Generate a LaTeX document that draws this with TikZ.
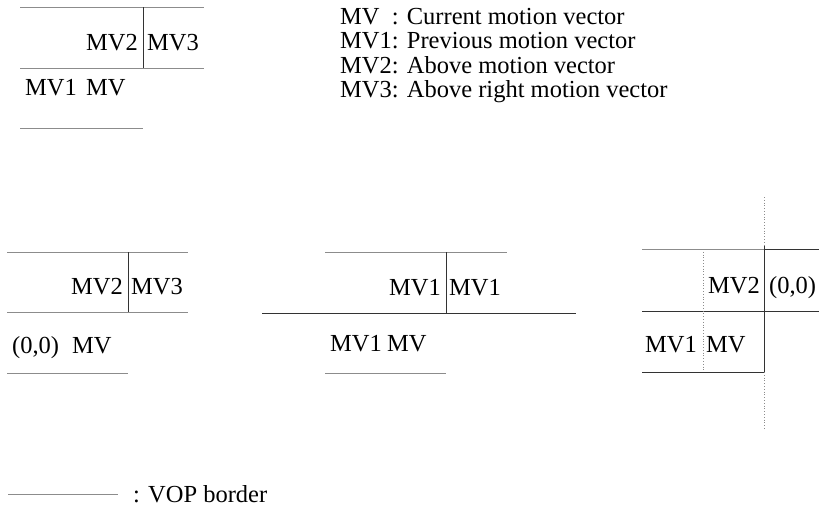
\documentclass[tikz,border=0pt]{standalone}
\usepackage{fontspec}
\setmainfont{Liberation Serif}
\usepackage{tikz}
\begin{document}
\begin{tikzpicture}[x=1pt, y=-1pt,
    grid/.style={line width=0.8pt, black!45},
    vop/.style={line width=1pt, black!80},
    guide/.style={line width=0.8pt, black!45, dotted},
    lbl/.style={inner sep=0pt, font=\fontsize{24.5}{24.5}\selectfont},
]
\useasboundingbox (0,0) rectangle (819,509);

% inside the VOP
\draw[grid] (20,7) -- (204,7);
\draw[grid] (20,68) -- (204,68);
\draw[grid] (20,128) -- (143,128);
\draw[vop] (143,7) -- (143,68);
\node[lbl, anchor=base east] (inMVtwo) at (138,50) {MV2};
\node[lbl, anchor=base west] (inMVthree) at (147,50) {MV3};
\node[lbl, anchor=base west] (inMVone) at (25,95) {MV1};
\node[lbl, anchor=base west] (inMV) at (86,95) {MV};

% legend
\node[lbl, anchor=base west] (keyMV) at (340,24) {MV\phantom{1}: Current motion vector};
\node[lbl, anchor=base west] (keyMVone) at (340,48.5) {MV1: Previous motion vector};
\node[lbl, anchor=base west] (keyMVtwo) at (340,73) {MV2: Above motion vector};
\node[lbl, anchor=base west] (keyMVthree) at (340,97.5) {MV3: Above right motion vector};

% left border
\draw[grid] (7,252) -- (188,252);
\draw[grid] (7,312) -- (188,312);
\draw[grid] (7,373) -- (128,373);
\draw[vop] (128,252) -- (128,312);
\node[lbl, anchor=base east] (leftMVtwo) at (123,294) {MV2};
\node[lbl, anchor=base west] (leftMVthree) at (131,294) {MV3};
\node[lbl, anchor=base west] (leftZero) at (12,353) {(0,0)};
\node[lbl, anchor=base west] (leftMV) at (72,353) {MV};

% top border
\draw[grid] (325,252) -- (507,252);
\draw[vop] (262,313) -- (576,313);
\draw[grid] (325,373) -- (446,373);
\draw[vop] (446,252) -- (446,313);
\node[lbl, anchor=base east] (topMVoneA) at (441,295) {MV1};
\node[lbl, anchor=base west] (topMVoneB) at (449,295) {MV1};
\node[lbl, anchor=base west] (topMVone) at (330,351) {MV1};
\node[lbl, anchor=base west] (topMV) at (387,351) {MV};

% right border
\draw[grid] (642,249) -- (764,249);
\draw[vop] (764,249) -- (819,249);
\draw[vop] (642,311) -- (819,311);
\draw[vop] (642,372) -- (764,372);
\draw[vop] (764,245) -- (764,372);
\draw[guide] (703,249) -- (703,372);
\draw[guide] (764,197) -- (764,245);
\draw[guide] (764,372) -- (764,430);
\node[lbl, anchor=base west] (rightMVtwo) at (708,293) {MV2};
\node[lbl, anchor=base west] (rightZero) at (769,293) {(0,0)};
\node[lbl, anchor=base west] (rightMVone) at (645,352) {MV1};
\node[lbl, anchor=base west] (rightMV) at (706,352) {MV};

% key for the border line
\coordinate (keyA) at (8,494);
\coordinate (keyB) at (118,494);
\draw[grid] (keyA) -- (keyB);
\node[lbl, anchor=base west] (keyVOP) at (133,502) {: VOP border};
\end{tikzpicture}
\end{document}
